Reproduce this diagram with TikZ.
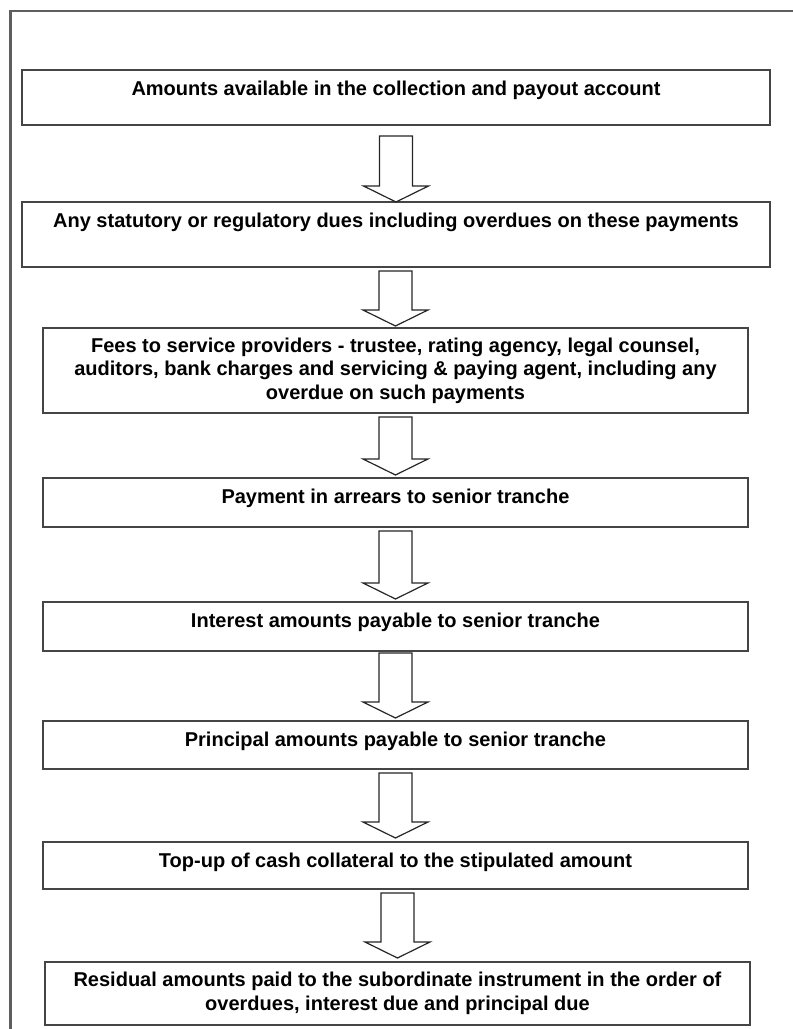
\documentclass[tikz,border=0pt]{standalone}
\usepackage{fontspec}
\setmainfont{Liberation Sans}
\usetikzlibrary{positioning, calc}
\definecolor{linegray}{HTML}{454545}
\definecolor{framegray}{HTML}{5E5E5E}
\tikzset{
  flow/.style={
	x=0.75pt, y=0.75pt, % one unit is one pixel of the scan
	every node/.style={font=\bfseries\fontsize{15}{17.6}\selectfont, inner sep=0pt, outer sep=0pt, align=center},
  },
  stage/.style={draw=linegray, line width=1.2pt, minimum width=528.75pt}, % the payment steps
  widestage/.style={stage, minimum width=561pt},
  oneline/.style={text height=19.5pt, text depth=#1}, % text sits high in the box
  blockarrow/.style={draw=black!85, line width=0.9pt, fill=white, line join=miter},
  frame/.style={draw=framegray, line width=1.8pt},
}
% hollow down arrow from #1 to #2, gap #3 under #1 and gap #4 over #2
\newcommand{\flowarrow}[4]{%
  \draw[blockarrow] ($(#2.north |- #1.south)+(-16.5,-#3)$) -- ($(#2.north)+(-16.5,#4+16)$)
	-- ++(-16,0) -- ($(#2.north)+(0,#4)$) -- ($(#2.north)+(32.5,#4+16)$) -- ++(-16,0)
	-- ($(#2.north |- #1.south)+(16.5,-#3)$) -- cycle;}

\begin{document}
\begin{tikzpicture}[flow]
	  \useasboundingbox (0,0) rectangle (793,1029);
	  \draw[frame] (10.5,0) -- (10.5,1018) -- (793,1018);

	  \node[widestage, oneline=21.75pt] (b1) at (396,931.5) {Amounts available in the collection and payout account};
	  \node[widestage, oneline=29.25pt, below=57.75pt of b1] (b2) {Any statutory or regulatory dues including overdues on these payments};
	  \node[stage, minimum height=63.75pt, below=45.75pt of b2, xshift=-0.4pt] (b3) {Fees to service providers - trustee, rating agency, legal counsel,\\auditors, bank charges and servicing \& paying agent, including any\\overdue on such payments};
	  \node[stage, oneline=17.25pt, below=48.75pt of b3] (b4) {Payment in arrears to senior tranche};
	  \node[stage, oneline=17.25pt, below=56.25pt of b4] (b5) {Interest amounts payable to senior tranche};
	  \node[stage, oneline=16.5pt, below=52.5pt of b5] (b6) {Principal amounts payable to senior tranche};
	  \node[stage, oneline=15.75pt, below=54.75pt of b6] (b7) {Top-up of cash collateral to the stipulated amount};
	  \node[stage, minimum height=47.25pt, below=54.75pt of b7, xshift=1.5pt] (b8) {Residual amounts paid to the subordinate instrument in the order of\\overdues, interest due and principal due};

	  \flowarrow{b1}{b2}{11}{0}
	  \flowarrow{b2}{b3}{4}{2}
	  \flowarrow{b3}{b4}{4}{3}
	  \flowarrow{b4}{b5}{4}{3}
	  \flowarrow{b5}{b6}{2}{3}
	  \flowarrow{b6}{b7}{4}{4}
	  \flowarrow{b7}{b8}{4}{4}
\end{tikzpicture}
\end{document}
